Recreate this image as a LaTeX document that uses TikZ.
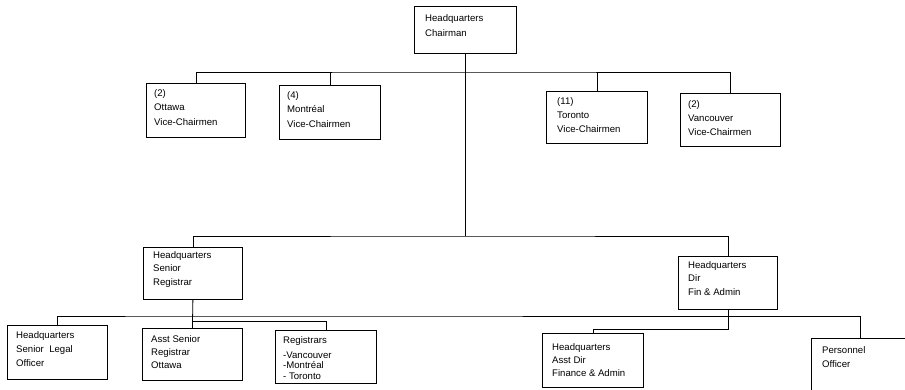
\documentclass[tikz,border=0pt]{standalone}
\usepackage{fontspec}
\setmainfont{Liberation Sans}
\usetikzlibrary{positioning}
\tikzset{
  % office box
  unit/.style={
    draw, line width=0.8pt, anchor=north west,
    minimum width=100pt, minimum height=53pt, inner sep=0pt
  },
  % text set inside a box
  tag/.style={
    anchor=north west, align=left, inner sep=0pt,
    font=\fontsize{9.6}{14}\selectfont
  },
  % reporting line
  link/.style={line width=0.8pt},
}

\begin{document}
\begin{tikzpicture}[x=1pt, y=-1pt]
\useasboundingbox (0,0) rectangle (905,390);
\clip (0,0) rectangle (905,390);

% ── Top: Chairman ────────────────────────────────────────────────────────────
\node[unit, minimum width=102pt, minimum height=47pt] (chair) at (414,6) {};
\node[tag, font=\fontsize{9.6}{15}\selectfont] (chairT) at (425,14) {Headquarters\\Chairman};

% ── Row 1: Vice-Chairmen ─────────────────────────────────────────────────────
\node[unit, minimum width=99pt, minimum height=54pt] (otw) at (146,83) {};
\node[unit, minimum width=101pt, minimum height=54pt] (mtl) at (279,85) {};
\node[unit, minimum width=101pt, minimum height=52pt] (tor) at (546,91) {};
\node[unit, minimum width=100pt, minimum height=53pt] (van) at (680,93) {};
\node[tag, font=\fontsize{9.6}{14.5}\selectfont] (otwT) at (154,89) {(2)\\Ottawa\\Vice-Chairmen};
\node[tag, font=\fontsize{9.6}{14.5}\selectfont] (mtlT) at (287,91) {(4)\\Montréal\\Vice-Chairmen};
\node[tag] (torT) at (557,97) {(11)\\Toronto\\Vice-Chairmen};
\node[tag] (vanT) at (688,100) {(2)\\Vancouver\\Vice-Chairmen};

% ── Row 2: Senior Registrar, Dir Fin & Admin ────────────────────────────────
\node[unit, minimum width=99pt, minimum height=52pt] (sreg) at (143,247) {};
\node[unit, minimum width=99pt, minimum height=53pt] (dfa) at (678,256) {};
\node[tag, font=\fontsize{9.6}{13.5}\selectfont] (sregT) at (153,251) {Headquarters\\Senior\\Registrar};
\node[tag, font=\fontsize{9.6}{13.5}\selectfont] (dfaT) at (688,261) {Headquarters\\Dir\\Fin \& Admin};

% ── Row 3: staff ─────────────────────────────────────────────────────────────
\node[unit, minimum width=100pt, minimum height=54pt] (legal) at (7,325) {};
\node[unit, minimum width=100pt, minimum height=52pt] (asr) at (142,328) {};
\node[unit, minimum width=101pt, minimum height=53pt] (reg) at (275,330) {};
\node[unit, minimum width=101pt, minimum height=54pt] (adir) at (542,333) {};
\node[unit, minimum width=98pt, minimum height=60pt] (pers) at (811,338) {};
\node[tag] (legalT) at (16,331) {Headquarters\\Senior\ \ Legal\\Officer};
\node[tag, font=\fontsize{9.6}{13}\selectfont] (asrT) at (151,335) {Asst Senior\\Registrar\\Ottawa};
\node[tag] (regT) at (283,336) {Registrars\\[1pt]-Vancouver\\[-4pt]-Montréal\\[-3pt]- Toronto};
\node[tag, font=\fontsize{9.6}{13}\selectfont] (adirT) at (552,343) {Headquarters\\Asst Dir\\Finance \& Admin};
\node[tag] (persT) at (822,346) {Personnel\\Officer};

% ── Connectors ───────────────────────────────────────────────────────────────
\coordinate (topbus) at (465,72);
\coordinate (midbus) at (465,236);
\coordinate (lowbus) at (192,316);
\coordinate (regbus) at (192,321);

\draw[link] (chair.south) -- (chair.south |- midbus);
\draw[link] (otw.north) |- (topbus) -| (van.north);
\draw[link] (mtl.north) -- (mtl.north |- topbus);
\draw[link] (tor.north) -- (tor.north |- topbus);

\draw[link] (sreg.north) |- (midbus) -| (dfa.north);
\draw[link] (sreg.south) -- (asr.north);
\draw[link] (legal.north) |- (lowbus) -| (pers.north);
\draw[link] (regbus) -| (reg.north);
\draw[link] (dfa.south) -- ++(0,20) -| (adir.north);

\end{tikzpicture}
\end{document}
